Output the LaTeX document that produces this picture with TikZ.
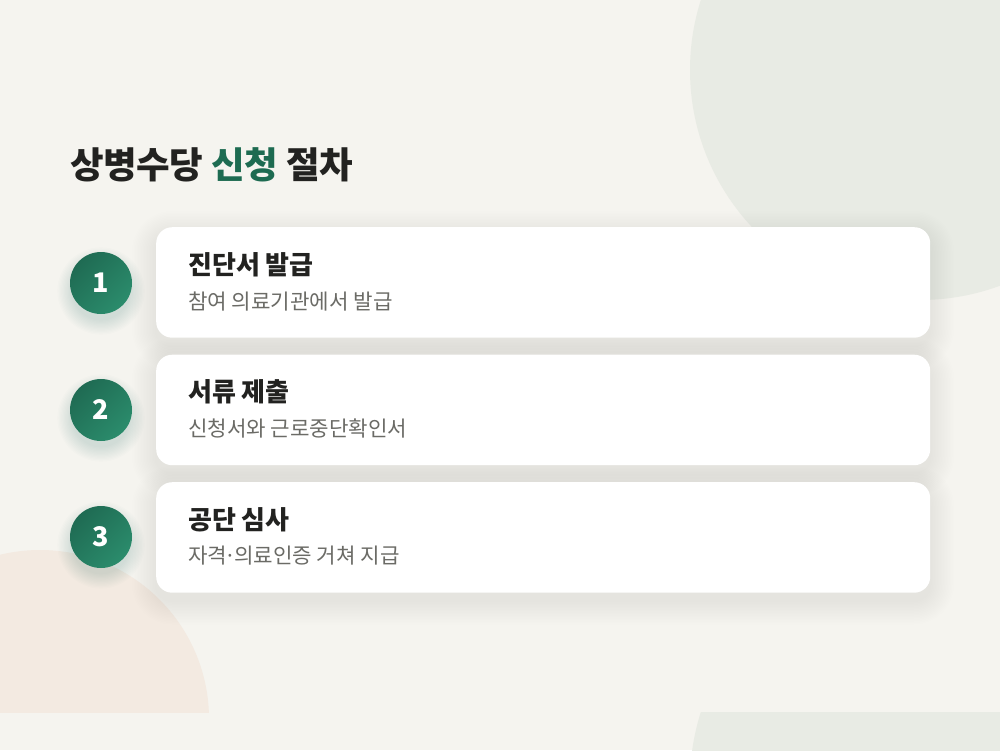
\documentclass[tikz,border=0pt]{standalone}
\usepackage{fontspec}
\newfontfamily\krT{Noto Sans CJK KR}[LetterSpace=-1]
\newfontfamily\krS{Noto Sans CJK KR}
\newfontfamily\krN{Noto Sans CJK KR}
\definecolor{bg}{HTML}{F5F4EF}
\definecolor{blobgreen}{HTML}{E8EBE4}
\definecolor{blobpeach}{HTML}{F3EAE1}
\definecolor{ink}{HTML}{222220}
\definecolor{subink}{HTML}{6B6B66}
\definecolor{accent}{HTML}{1D6B51}
\definecolor{numdark}{HTML}{1F6B53}
\definecolor{numlight}{HTML}{2B8C6C}
\definecolor{shadowc}{HTML}{3A3A30}
\tikzset{
  card/.style={fill=white, rounded corners=16pt, minimum width=774pt, minimum height=110.5pt, anchor=north west, inner sep=0pt},
  numc/.style={circle, minimum size=62pt, inner sep=0pt, left color=numdark, right color=numlight, shading angle=45, text=white, font=\krN\bfseries\fontsize{27}{29}\selectfont},
  headtxt/.style={anchor=west, inner sep=0pt, text=ink, font=\krS\bfseries\fontsize{26}{28}\selectfont},
  subtxt/.style={anchor=west, inner sep=0pt, text=subink, font=\krS\fontsize{21.2}{24}\selectfont},
}
\begin{document}
\begin{tikzpicture}[x=1pt,y=-1pt]
\useasboundingbox (0,0) rectangle (1000,750);
\fill[bg] (0,0) rectangle (1000,750);
% background blobs
\begin{scope}
  \clip (0,0) rectangle (1000,712);
  \fill[blobgreen] (920,70) circle[radius=230pt];
  \fill[blobpeach] (40,719) circle[radius=169pt];
\end{scope}
\begin{scope}
  \clip (0,712) rectangle (1000,750);
  \fill[blobgreen] (920,782) circle[radius=230pt];
\end{scope}
% card shadows
\foreach \top in {227,354.5,482}{
  \foreach \i in {1,...,16}{
    \fill[shadowc, fill opacity=0.004, rounded corners={16pt+1.5*\i pt}]
      ({156-1.5*\i},{\top+8-1.5*\i}) rectangle ({930+1.5*\i},{\top+118.5+1.5*\i});
  }
}
% circle shadows
\foreach \cy in {283,410,537}{
  \foreach \i in {1,...,12}{
    \fill[numdark, fill opacity=0.012] (101,\cy+8) circle[radius={28pt+1.3*\i pt}];
  }
}
% title
\node[anchor=west, inner sep=0pt, text=ink, font=\krT\bfseries\fontsize{36.5}{40}\selectfont] (title) at (70,165) {상병수당 \textcolor{accent}{신청} 절차};
% cards
\node[card] (card1) at (156,227) {};
\node[card] (card2) at (156,354.5) {};
\node[card] (card3) at (156,482) {};
% number circles
\node[numc] (n1) at (101,283) {1};
\node[numc] (n2) at (101,410) {2};
\node[numc] (n3) at (101,537) {3};
% texts
\node[headtxt] (h1) at (188,265) {진단서 발급};
\node[subtxt] (s1) at (188,302) {참여 의료기관에서 발급};
\node[headtxt] (h2) at (188,392) {서류 제출};
\node[subtxt] (s2) at (188,428.5) {신청서와 근로중단확인서};
\node[headtxt] (h3) at (188,520) {공단 심사};
\node[subtxt] (s3) at (188,556) {자격\kern-0.12em·\kern-0.12em의료인증 거쳐 지급};
\end{tikzpicture}
\end{document}
